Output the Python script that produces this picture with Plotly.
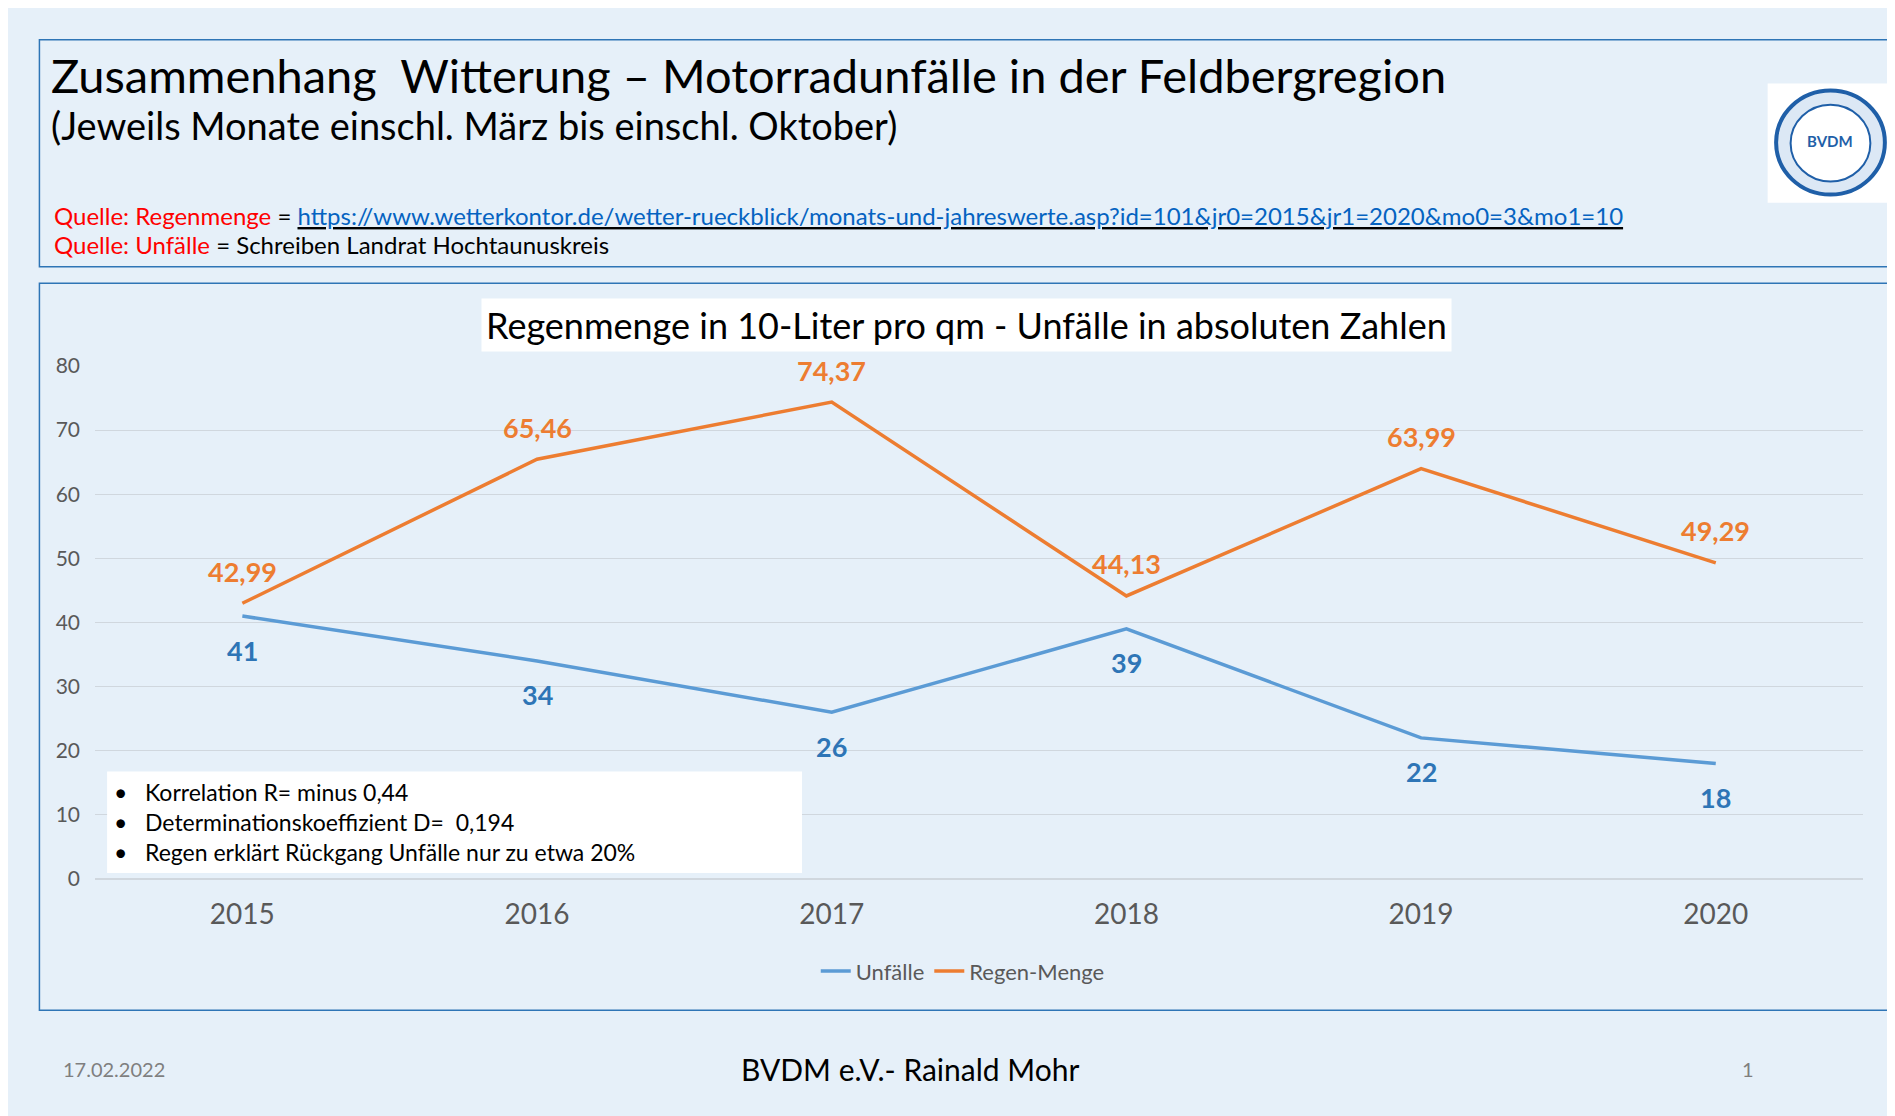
import plotly.graph_objects as go

years = ["2015", "2016", "2017", "2018", "2019", "2020"]
unfaelle = [41, 34, 26, 39, 22, 18]
regen = [42.99, 65.46, 74.37, 44.13, 63.99, 49.29]
regen_labels = ["42,99", "65,46", "74,37", "44,13", "63,99", "49,29"]

W, H = 1568.0, 923.0
def px_(x): return x / W
def py_(y): return 1 - y / H

FONT = "Lato"
BG = "#e6f0f9"
BLUE = "#5b9bd5"
ORANGE = "#ed7d31"

fig = go.Figure()
fig.add_trace(go.Scatter(x=years, y=unfaelle, name="Unfälle", mode="lines",
                         line=dict(color=BLUE, width=3.5)))
fig.add_trace(go.Scatter(x=years, y=regen, name="Regen-Menge", mode="lines",
                         line=dict(color=ORANGE, width=3.5)))

shapes = [
    dict(type="rect", xref="paper", yref="paper", x0=px_(26), x1=px_(1561), y0=py_(207), y1=py_(15),
         line=dict(color="#2e75b6", width=1.5), fillcolor="rgba(0,0,0,0)"),
    dict(type="rect", xref="paper", yref="paper", x0=px_(26), x1=px_(1561), y0=py_(836), y1=py_(221),
         line=dict(color="#2e75b6", width=1.5), fillcolor="rgba(0,0,0,0)"),
    dict(type="rect", xref="paper", yref="paper", x0=px_(82), x1=px_(657), y0=py_(720), y1=py_(634),
         line=dict(width=0), fillcolor="white"),
    dict(type="rect", xref="paper", yref="paper", x0=px_(1456), x1=px_(1560), y0=py_(153), y1=py_(52),
         line=dict(width=0), fillcolor="white"),
    dict(type="circle", xref="paper", yref="paper", x0=px_(1463), x1=px_(1553), y0=py_(146), y1=py_(58),
         line=dict(color="#1f5fa8", width=4), fillcolor="#dce8f5"),
    dict(type="circle", xref="paper", yref="paper", x0=px_(1475), x1=px_(1541), y0=py_(135), y1=py_(70),
         line=dict(color="#1f5fa8", width=2), fillcolor="white"),
]

def txt(x, y, s, size, color="black", anchor="left", **kw):
    return dict(x=px_(x), y=py_(y), xref="paper", yref="paper", text=s, showarrow=False,
                xanchor=anchor, yanchor="middle", font=dict(family=FONT, size=size, color=color), **kw)

ann = [
    txt(34, 45, "Zusammenhang  Witterung – Motorradunfälle in der Feldbergregion", 47),
    txt(34, 87, "(Jeweils Monate einschl. März bis einschl. Oktober)", 38),
    txt(36, 164, "<span style='color:red'>Quelle: Regenmenge</span> = <u><span style='color:#0563c1'>https://www.wetterkontor.de/wetter-rueckblick/monats-und-jahreswerte.asp?id=101&jr0=2015&jr1=2020&mo0=3&mo1=10</span></u>", 24),
    txt(36, 188, "<span style='color:red'>Quelle: Unfälle</span> = Schreiben Landrat Hochtaunuskreis", 24),
    txt(793, 256, "Regenmenge in 10-Liter pro qm - Unfälle in absoluten Zahlen", 36, anchor="center",
        bgcolor="white", borderpad=4),
    txt(86, 677, "•   Korrelation R= minus 0,44<br>•   Determinationskoeffizient D=  0,194<br>•   Regen erklärt Rückgang Unfälle nur zu etwa 20%",
        23, align="left"),
    txt(1508, 101, "<b>BVDM</b>", 15, color="#1f5fa8", anchor="center"),
    txt(44, 886, "17.02.2022", 20, color="#7f7f7f"),
    txt(746, 886, "BVDM e.V.- Rainald Mohr", 30, anchor="center"),
    txt(1440, 886, "1", 20, color="#7f7f7f", anchor="center"),
]
for i, v in enumerate(unfaelle):
    ann.append(dict(x=i, y=v, xref="x", yref="y", text="<b>%d</b>" % v, showarrow=False, yshift=-34,
                    font=dict(family=FONT, size=27, color="#2e75b6")))
for i, (v, lab) in enumerate(zip(regen, regen_labels)):
    ann.append(dict(x=i, y=v, xref="x", yref="y", text="<b>%s</b>" % lab, showarrow=False, yshift=32,
                    font=dict(family=FONT, size=27, color=ORANGE)))

fig.update_layout(
    width=1895, height=1116, paper_bgcolor=BG, plot_bgcolor=BG,
    margin=dict(l=0, r=0, t=0, b=0), shapes=shapes, annotations=ann,
    font=dict(family=FONT, color="#595959"),
    xaxis=dict(domain=[px_(72), px_(1535)], range=[-0.5, 5.5], showgrid=False, zeroline=False,
               tickfont=dict(size=28, color="#595959"), ticks="", ticklabelstandoff=16),
    yaxis=dict(domain=[py_(725), py_(291)], range=[0, 80], dtick=10, gridcolor="#d0d7de",
               zeroline=True, zerolinecolor="#d0d7de", tickfont=dict(size=21, color="#595959"),
               ticklabelposition="outside", ticklabelstandoff=14),
    legend=dict(orientation="h", x=px_(790), y=py_(803), xanchor="center", yanchor="middle",
                font=dict(size=22, color="#595959"), bgcolor="rgba(0,0,0,0)"),
)
fig.write_html("out.html")
